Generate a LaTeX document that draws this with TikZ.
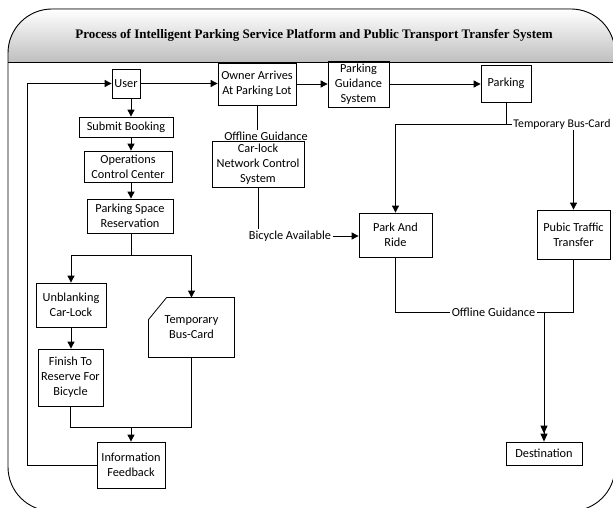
\documentclass[tikz,border=0pt]{standalone}
\usepackage{fontspec}
\setmainfont{Carlito}
\newfontfamily\titlefont{Liberation Serif}
\usetikzlibrary{arrows.meta,calc}
\begin{document}
\begin{tikzpicture}[x=1pt,y=-1pt,
  line width=0.9pt,
  every node/.style={font=\fontsize{12.3}{15}\selectfont, inner sep=0pt, align=center},
  box/.style={draw, line width=0.8pt},
  lbl/.style={fill=white, inner sep=1pt},
  arr/.style={-{Triangle[length=7,width=7]}},
  arrd/.style={-{Triangle[length=8,width=7]Triangle[length=8,width=7]}}]
\useasboundingbox (0,0) rectangle (613,508);
\clip (0,0) rectangle (613,508);
% frame and header
\fill[top color=white, bottom color=black!25] (8,62) [rounded corners=44] -- (8,9) -- (615,9) [sharp corners] -- (615,62) -- cycle;
\draw[rounded corners=44] (8,9) rectangle (615,511);
\draw (8,62) -- (615,62);
\node[font=\titlefont\bfseries\fontsize{13}{15}\selectfont] (title) at (314,35) {Process of Intelligent Parking Service Platform and Public Transport Transfer System};
% nodes
\node[box, minimum width=28, minimum height=29] (user) at (126,83.5) {User};
\node[box, minimum width=78, minimum height=42] (owner) at (257,84) {Owner Arrives\\At Parking Lot};
\node[box, minimum width=61, minimum height=46] (guid) at (358.5,84) {Parking\\Guidance\\System};
\node[box, minimum width=50, minimum height=37] (park) at (506,83.5) {Parking};
\node[box, minimum width=94, minimum height=20] (submit) at (126,127) {Submit Booking};
\node[box, minimum width=88, minimum height=31] (ops) at (128,166.5) {Operations\\Control Center};
\node[box, minimum width=86, minimum height=34] (psr) at (130,216) {Parking Space\\Reservation};
\node[box, minimum width=70, minimum height=44] (unbl) at (71,305) {Unblanking\\Car-Lock};
\node[box, minimum width=65, minimum height=57] (finish) at (70.5,377.5) {Finish To\\Reserve For\\Bicycle};
\node[minimum width=85, minimum height=59] (tbc) at (191.5,327.5) {Temporary\\Bus-Card};
\draw[line width=0.8pt] ([xshift=18]tbc.north west) -- (tbc.north east) -- (tbc.south east) -- (tbc.south west) -- ([yshift=-22]tbc.north west) -- cycle;
\node[box, minimum width=68, minimum height=46] (info) at (131,465) {Information\\Feedback};
\node[box, minimum width=92, minimum height=46] (carlock) at (258,164) {Car-lock\\Network Control\\System};
\node[lbl] (off1) at (266,136) {Offline Guidance};
\node[lbl] (bike) at (290,236) {Bicycle Available};
\node[box, minimum width=73, minimum height=44] (pnr) at (395.5,235) {Park And\\Ride};
\node[box, minimum width=73, minimum height=49] (ptt) at (573.5,234.5) {Pubic Traffic\\Transfer};
\node[lbl, anchor=west, font=\fontsize{11.8}{14}\selectfont] (tbclbl) at (512,124) {Temporary Bus-Card};
\node[lbl] (off2) at (493.5,312) {Offline Guidance};
\node[box, minimum width=76, minimum height=23] (dest) at (544,453.5) {Destination};
% coordinates
\coordinate (cx) at (131,0);
\coordinate (sp) at (131,255);
\coordinate (jn) at (131,427);
\coordinate (fbl) at (27,465);
\coordinate (pj) at (506,124);
\coordinate (dj) at (544,312);
% connectors
\draw[arr] (user.east) -- (user.east -| owner.west);
\draw[arr] (owner.east) -- (owner.east -| guid.west);
\draw[arr] (guid.east) -- (guid.east -| park.west);
\draw[arr] (user.south -| cx) -- (submit.north -| cx);
\draw[arr] (submit.south -| cx) -- (ops.north -| cx);
\draw[arr] (ops.south -| cx) -- (psr.north -| cx);
\draw (psr.south -| cx) -- (sp);
\draw[arr] (sp) -| (unbl.north);
\draw[arr] (sp) -| (tbc.north);
\draw[arr] (unbl.south) -- (unbl.south |- finish.north);
\draw (finish.south) |- (jn);
\draw (tbc.south) |- (jn);
\draw[arr] (jn) -- (info.north);
\draw[arr] (info.west) -- (fbl) |- (user.west);
\draw (owner.south) -- (owner.south |- off1.north);
\draw (carlock.south) -- (carlock.south |- bike.north);
\draw[arr] (bike.east) -- (bike.east -| pnr.west);
\draw (park.south) -- (pj);
\draw[arr] (pj) -| (pnr.north);
\draw (pj) -- (tbclbl.west);
\draw[arr] (tbclbl.south -| ptt.north) -- (ptt.north);
\draw (pnr.south) |- (off2.west);
\draw (ptt.south) |- (off2.east);
\draw[arrd] (dj) -- (dest.north);
\end{tikzpicture}
\end{document}
